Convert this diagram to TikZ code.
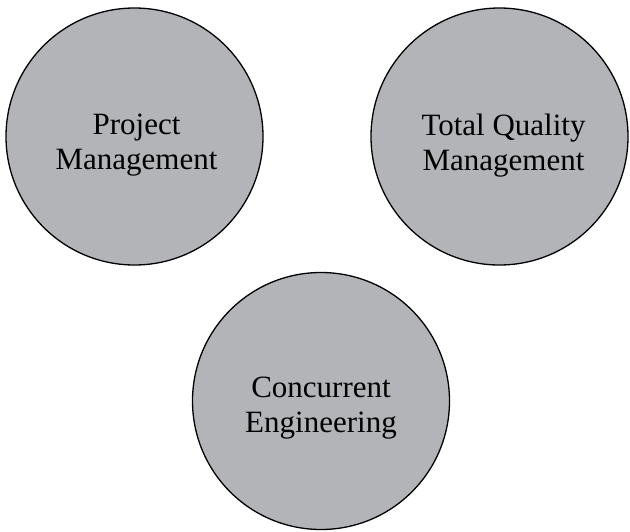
\documentclass[tikz,border=0pt]{standalone}
\usepackage{fontspec}
\setmainfont{Liberation Serif}
\usepackage{tikz}
\usetikzlibrary{positioning}
\tikzstyle{diagram} = [x = 1pt, y = -1pt]
\definecolor{bubbleColor}{RGB}{179,180,184}
\tikzstyle{bubble} = [circle, draw=black, fill=bubbleColor, line width=1.3pt, minimum size=257pt, inner sep=0pt]
\tikzstyle{bubbleText} = [align=center, inner sep=0pt, font=\fontsize{31}{35}\selectfont]

\begin{document}
\begin{tikzpicture}[diagram]
  \useasboundingbox (0,0) rectangle (630,531);
  \node [bubble] (projMgmt) at (134.5,136.5) {};
  \node [bubble] (tqMgmt) at (499.5,136.5) {};
  \node [bubble] (concEng) at (321,401) {};

  \node [bubbleText] (projMgmtText) at ([xshift=2pt, yshift=-9pt]projMgmt.center) {Project\\Management};
  \node [bubbleText] (tqMgmtText) at ([xshift=4pt, yshift=-9pt]tqMgmt.center) {Total Quality\\Management};
  \node [bubbleText] (concEngText) at ([yshift=-7pt]concEng.center) {Concurrent\\Engineering};
\end{tikzpicture}
\end{document}
